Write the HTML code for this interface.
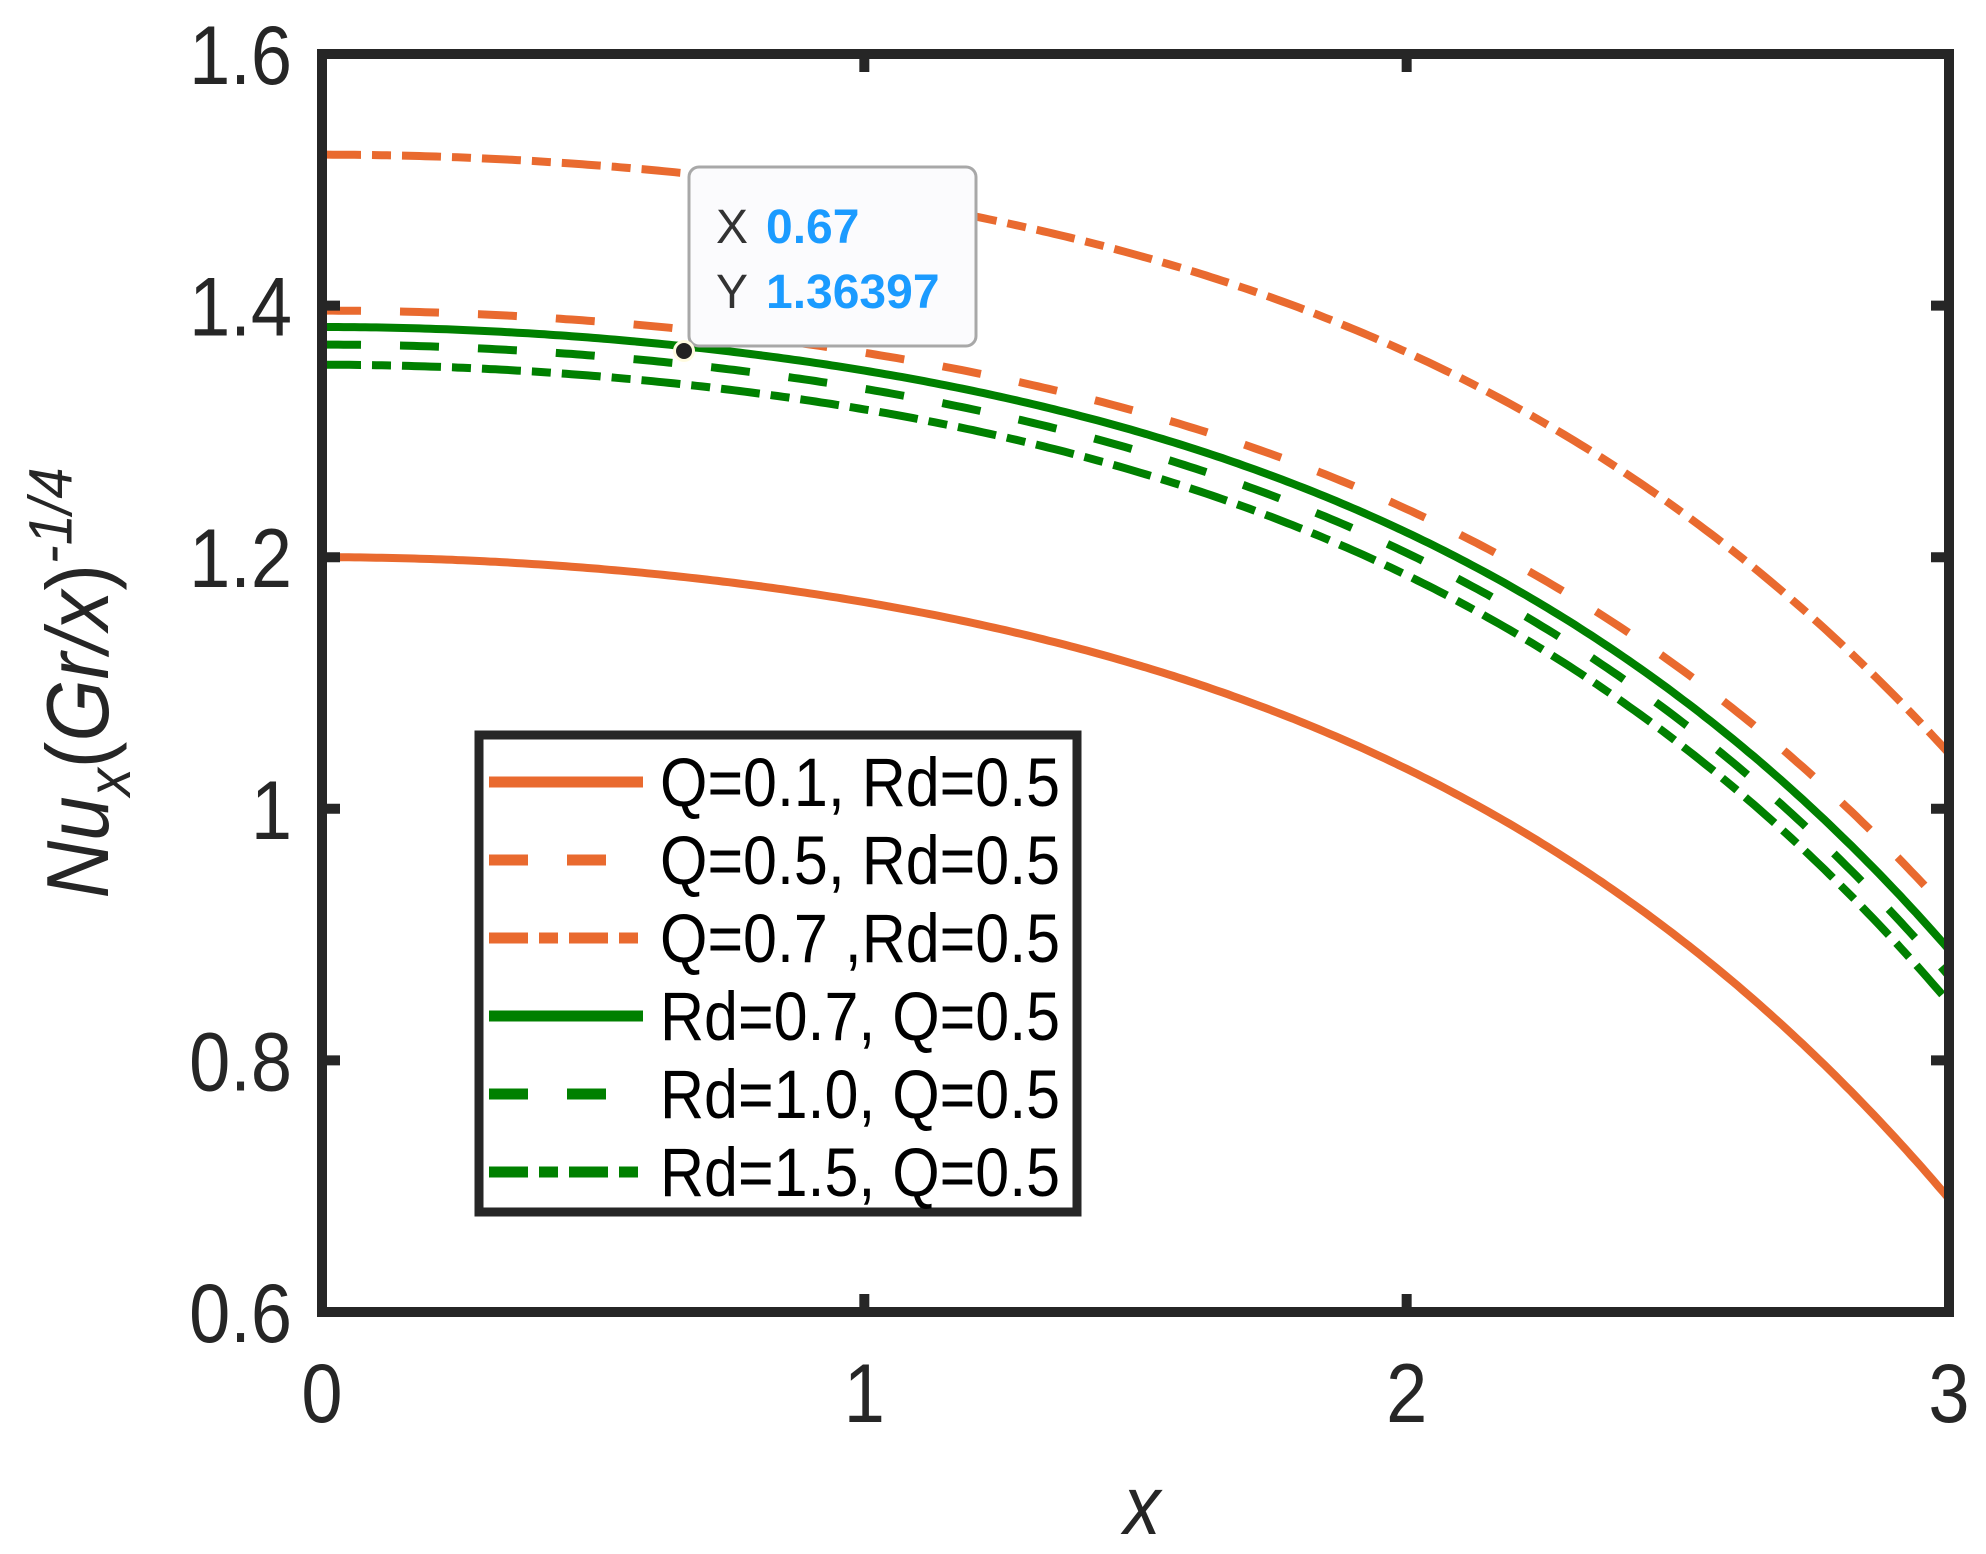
<!DOCTYPE html>
<html><head><meta charset="utf-8"><style>
html,body{margin:0;padding:0;background:#fff;}
svg{display:block;}
text{font-family:"Liberation Sans",Arial,sans-serif;}
</style></head><body>
<svg id="s" width="1986" height="1554" viewBox="0 0 1986 1554" xmlns="http://www.w3.org/2000/svg">
<rect width="1986" height="1554" fill="#fff"/>
<g id="curves" fill="none" stroke-width="8"></g>
<rect x="322" y="54" width="1627" height="1258" fill="none" stroke="#262626" stroke-width="10"/>
<g id="ticks" stroke="#262626" stroke-width="10"></g>
<g id="labels" fill="#262626"></g>
<rect x="689" y="167" width="287" height="179" rx="10" fill="#fbfbfd" stroke="#a8a8a8" stroke-width="3"/>
<text x="716" y="243" font-size="48" fill="#333">X</text>
<text x="766" y="243" font-size="48" fill="#1b9bff" font-weight="bold">0.67</text>
<text x="716" y="308" font-size="48" fill="#333">Y</text>
<text x="766" y="308" font-size="48" fill="#1b9bff" font-weight="bold">1.36397</text>
<circle cx="684" cy="351" r="11" fill="#fffbe0"/>
<circle cx="684" cy="351" r="8" fill="#222"/>
<rect x="479" y="735" width="598" height="477" fill="#fff" stroke="#262626" stroke-width="9"/>
<g id="legend"></g>
<text transform="translate(1142,1534) scale(1,1.13)" font-size="74" font-style="italic" text-anchor="middle" fill="#262626">x</text>
<g transform="translate(108,683) rotate(-90) scale(1,1.1)" fill="#262626">
<text x="0" y="0" text-anchor="middle" font-size="80"><tspan font-style="italic">Nu</tspan><tspan font-size="56" font-style="italic" dy="20">x</tspan><tspan dy="-20">(</tspan><tspan font-style="italic">Gr/x</tspan><tspan>)</tspan><tspan font-size="56" font-style="italic" dy="-33">-1/4</tspan></text>
</g>
</svg>
<script>
var NS="http://www.w3.org/2000/svg";
function el(t,a,p){var e=document.createElementNS(NS,t);for(var k in a)e.setAttribute(k,a[k]);p.appendChild(e);return e;}
var X0=322,XS=542.33,Y0=54,YS=1258;
function px(x){return X0+x*XS;} function py(v){return Y0+(1.6-v)*YS;}
function g(x){return 0.0736*x*x-0.0117*x*x*x+0.00806*x*x*x*x;}
var OR="#e96a2f",GR="#008000";
var DASH="39 39",DD="39 11 19 11";
var series=[
 [1.2,0.69,OR,""],
 [1.396,0.918,OR,DASH],
 [1.52,1.044,OR,DD],
 [1.383,0.888,GR,""],
 [1.369,0.867,GR,DASH],
 [1.353,0.846,GR,DD]];
var cg=document.getElementById("curves");
series.forEach(function(s){
 var d="";var g3=g(3);
 for(var i=0;i<=300;i++){var x=i/100;var v=s[0]-(s[0]-s[1])*g(x)/g3;d+=(i?"L":"M")+px(x).toFixed(1)+" "+py(v).toFixed(1);}
 var a={d:d,stroke:s[2]}; if(s[3])a["stroke-dasharray"]=s[3];
 el("path",a,cg);
});
var tg=document.getElementById("ticks"),lg=document.getElementById("labels");
for(var k=0;k<=5;k++){
 var v=0.6+0.2*k, y=py(v);
 if(k>0&&k<5){el("line",{x1:322,y1:y,x2:340,y2:y},tg);el("line",{x1:1931,y1:y,x2:1949,y2:y},tg);}
 var lab=(k==2)?"1":v.toFixed(1);
 var t=el("text",{transform:"translate(292,"+(y+30)+") scale(1,1.13)","font-size":"74","text-anchor":"end"},lg);t.textContent=lab;
}
for(var k=0;k<=3;k++){
 var x=px(k);
 if(k>0&&k<3){el("line",{x1:x,y1:54,x2:x,y2:72},tg);el("line",{x1:x,y1:1294,x2:x,y2:1312},tg);}
 var t=el("text",{transform:"translate("+x+",1422) scale(1,1.13)","font-size":"74","text-anchor":"middle"},lg);t.textContent=k;
}
var L=document.getElementById("legend");
var names=["Q=0.1, Rd=0.5","Q=0.5, Rd=0.5","Q=0.7 ,Rd=0.5","Rd=0.7, Q=0.5","Rd=1.0, Q=0.5","Rd=1.5, Q=0.5"];
var rows=[782,860,938,1016,1094,1172];
series.forEach(function(s,i){
 var y=rows[i];var a={x1:489,y1:y,x2:643,y2:y,stroke:s[2],"stroke-width":"11"};
 if(s[3])a["stroke-dasharray"]=s[3];
 el("line",a,L);
 var t=el("text",{transform:"translate(660,"+(y+24)+") scale(1,1.12)","font-size":"61",fill:"#000"},L);t.textContent=names[i];
});
</script>
</body></html>
